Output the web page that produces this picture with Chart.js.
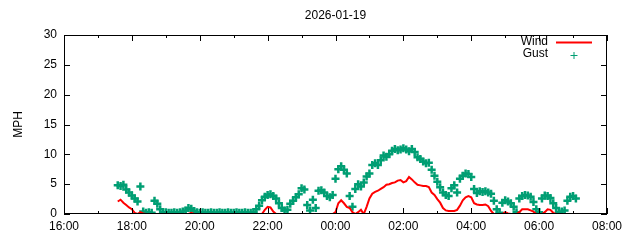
<!DOCTYPE html>
<html>
<head>
<meta charset="utf-8">
<script src="https://cdn.jsdelivr.net/npm/chart.js@4/dist/chart.umd.min.js"></script>
<style>
  html, body { margin: 0; padding: 0; background: #fff; }
  #wrap { width: 640px; height: 240px; }
</style>
</head>
<body>
<div id="wrap"><canvas id="myChart" width="640" height="240"></canvas></div>
<script>
// Sample times (5 minute readings, 2026-01-19 evening into next morning)
var times = [
  '17:35','17:40','17:45','17:50','17:55',
  '18:00','18:05','18:10','18:15','18:20','18:25','18:30','18:35','18:40','18:45','18:50','18:55',
  '19:00','19:05','19:10','19:15','19:20','19:25','19:30','19:35','19:40','19:45','19:50','19:55',
  '20:00','20:05','20:10','20:15','20:20','20:25','20:30','20:35','20:40','20:45','20:50','20:55',
  '21:00','21:05','21:10','21:15','21:20','21:25','21:30','21:35','21:40','21:45','21:50','21:55',
  '22:00','22:05','22:10','22:15','22:20','22:25','22:30','22:35','22:40','22:45','22:50','22:55',
  '23:00','23:05','23:10','23:15','23:20','23:25','23:30','23:35','23:40','23:45','23:50','23:55',
  '00:00','00:05','00:10','00:15','00:20','00:25','00:30','00:35','00:40','00:45','00:50','00:55',
  '01:00','01:05','01:10','01:15','01:20','01:25','01:30','01:35','01:40','01:45','01:50','01:55',
  '02:00','02:05','02:10','02:15','02:20','02:25','02:30','02:35','02:40','02:45','02:50','02:55',
  '03:00','03:05','03:10','03:15','03:20','03:25','03:30','03:35','03:40','03:45','03:50','03:55',
  '04:00','04:05','04:10','04:15','04:20','04:25','04:30','04:35','04:40','04:45','04:50','04:55',
  '05:00','05:05','05:10','05:15','05:20','05:25','05:30','05:35','05:40','05:45','05:50','05:55',
  '06:00','06:05','06:10','06:15','06:20','06:25','06:30','06:35','06:40','06:45','06:50','06:55',
  '07:00','07:05'
];

// Wind speed, MPH
var wind = [
  2.1, 2.4, 1.9, 1.5, 1.1,
  0.8, 0.2, 0.0, 0.3, 0.1, 0, 0, 0, 0, 0, 0, 0,
  0, 0, 0, 0, 0, 0, 0, 0, 0, 0.2, 0, 0,
  0, 0, 0, 0, 0, 0, 0, 0, 0, 0, 0, 0,
  0, 0, 0, 0, 0, 0, 0, 0, 0, 0, 0, 0.7,
  1.2, 1.1, 0.4, 0, 0, 0, 0, 0, 0, 0, 0, 0,
  0, 0, 0, 0, 0, 0, 0, 0, 0, 0, 0, 0,
  0.3, 1.8, 2.3, 1.8, 1.2, 1.0, 0.3, 0, 0.3, 0.7, 0, 1.2,
  2.6, 3.4, 3.7, 3.9, 4.2, 4.5, 4.9, 5.0, 5.2, 5.3, 5.6, 5.7,
  5.3, 5.5, 6.2, 5.8, 5.3, 4.9, 4.8, 4.7, 4.7, 4.5, 3.6, 3.2,
  2.5, 1.9, 1.0, 0.6, 0.5, 0.5, 0.5, 0.7, 1.4, 2.3, 2.8, 3.0,
  2.8, 1.8, 1.6, 1.5, 1.5, 1.6, 1.3, 0.5, 0, 0, 0, 0,
  0.3, 0.1, 0, 0, 0, 0.3, 0.8, 0.8, 0.8, 0.6, 0.4, 0,
  0, 0, 0.3, 0.8, 0.7, 0.2, 0, 0, 0, 0, 0, 0,
  0, 0
];

// Gust speed, MPH
var gust = [
  4.8, 4.7, 4.9, 4.1, 3.6,
  3.1, 2.6, 2.1, 4.6, 0.4, 0.2, 0.3, 0.2, 2.2, 1.7, 0.8, 0.3,
  0.3, 0.2, 0.2, 0.3, 0.2, 0.3, 0.4, 0.6, 1.0, 0.9, 0.5, 0.3,
  0.2, 0.3, 0.2, 0.2, 0.3, 0.2, 0.2, 0.3, 0.2, 0.2, 0.3, 0.2,
  0.2, 0.3, 0.2, 0.2, 0.3, 0.2, 0.2, 0.3, 0.8, 1.4, 2.3, 2.9,
  3.2, 3.3, 3.0, 2.6, 1.8, 1.0, 0.6, 0.7, 1.7, 2.2, 2.8, 3.3,
  4.3, 4.1, 1.5, 0.6, 2.4, 1.0, 3.9, 4.0, 3.6, 3.0, 2.8, 3.2,
  5.9, 7.5, 8.0, 7.4, 6.8, 3.0, 1.2, 4.2, 5.0, 4.6, 5.3, 6.3,
  6.8, 8.2, 8.5, 8.2, 9.0, 9.8, 9.6, 10.0, 10.6, 10.9, 10.7, 10.8,
  11.0, 10.8, 10.5, 10.9, 10.4, 9.5, 9.2, 8.8, 8.5, 8.6, 7.4, 6.4,
  5.4, 4.5, 3.6, 3.2, 3.0, 4.3, 4.8, 3.6, 5.9, 6.4, 6.8, 6.7,
  6.2, 4.2, 3.5, 3.8, 3.7, 3.8, 3.6, 3.4, 2.2, 0.8, 0.2, 1.9,
  2.3, 2.1, 1.8, 1.2, 0.3, 2.6, 3.0, 3.2, 3.1, 2.9, 2.0, 0.8,
  0.3, 2.6, 3.1, 3.0, 2.7, 1.8, 1.0, 0.3, 0.4, 0.6, 2.2, 2.9,
  3.0, 2.6
];

var xTickLabels = ['16:00', '18:00', '20:00', '22:00', '00:00', '02:00', '04:00', '06:00', '08:00'];
var yTickValues = [0, 5, 10, 15, 20, 25, 30];
var chartTitle = '2026-01-19';

var FONT = 'Liberation Sans, Arial, sans-serif';

// minutes since 16:00, wrapping past midnight
function toMinutes(t) {
    var p = t.split(':');
    var v = (parseInt(p[0], 10) - 16) * 60 + parseInt(p[1], 10);
    if (v < 0) v += 1440;
    return v;
}

function pairs(values) {
    var out = [];
    for (var i = 0; i < times.length; i++) {
        out.push({ x: toMinutes(times[i]), y: values[i] });
    }
    return out;
}

// gnuplot-ish frame: border, inward ticks on all four sides, title and key
var gnuplotFrame = {
    id: 'gnuplotFrame',
    afterDraw: function(chart) {
        var ctx = chart.ctx;
        var a = chart.chartArea;
        var xs = chart.scales.x, ys = chart.scales.y;
        ctx.save();
        ctx.strokeStyle = '#000';
        ctx.lineWidth = 1;
        ctx.strokeRect(Math.round(a.left) + 0.5, Math.round(a.top) + 0.5,
                       Math.round(a.width) - 1, Math.round(a.height) - 1);
        ctx.beginPath();
        xs.ticks.forEach(function(t) {
            var px = Math.round(xs.getPixelForValue(t.value)) + 0.5;
            var len = (t.value % 120 === 0) ? 6 : 3;
            ctx.moveTo(px, a.bottom); ctx.lineTo(px, a.bottom - len);
            ctx.moveTo(px, a.top); ctx.lineTo(px, a.top + len);
        });
        ys.ticks.forEach(function(t) {
            var py = Math.round(ys.getPixelForValue(t.value)) + 0.5;
            ctx.moveTo(a.left, py); ctx.lineTo(a.left + 6, py);
            ctx.moveTo(a.right, py); ctx.lineTo(a.right - 6, py);
        });
        ctx.stroke();

        // title
        ctx.fillStyle = '#000';
        ctx.font = '12px ' + FONT;
        ctx.textAlign = 'center';
        ctx.textBaseline = 'middle';
        ctx.fillText(chartTitle, (a.left + a.right) / 2, 16);

        // key, top right inside the plot
        var ds = chart.data.datasets;
        ctx.textAlign = 'right';
        ctx.fillText(ds[0].label, 548, 42);
        ctx.fillText(ds[1].label, 548, 54);
        ctx.strokeStyle = ds[0].borderColor;
        ctx.lineWidth = 2;
        ctx.beginPath();
        ctx.moveTo(556, 42.5); ctx.lineTo(592, 42.5);
        ctx.stroke();
        ctx.strokeStyle = ds[1].borderColor;
        ctx.lineWidth = 1;
        ctx.beginPath();
        ctx.moveTo(570.5, 55.5); ctx.lineTo(577.5, 55.5);
        ctx.moveTo(574, 52); ctx.lineTo(574, 59);
        ctx.stroke();
        ctx.restore();
    }
};

function createChart() {
    var ctx = document.getElementById('myChart').getContext('2d');
    var myChart = new Chart(ctx, {
        type: 'line',
        data: {
            datasets: [{
                label: 'Wind',
                data: pairs(wind),
                borderColor: '#ff0000',
                backgroundColor: '#ff0000',
                borderWidth: 2,
                pointRadius: 0,
                tension: 0,
                fill: false
            }, {
                label: 'Gust',
                data: pairs(gust),
                showLine: false,
                borderColor: '#009e73',
                backgroundColor: '#009e73',
                pointStyle: 'cross',
                pointRadius: 4,
                pointBorderWidth: 2.5,
                clip: 0
            }]
        },
        options: {
            responsive: false,
            animation: false,
            layout: { padding: { top: 35, right: 33, bottom: 0, left: 0 } },
            plugins: {
                legend: { display: false },
                title: { display: false },
                tooltip: { enabled: false }
            },
            scales: {
                x: {
                    type: 'linear',
                    min: 0,
                    max: 960,
                    grid: { display: false, drawTicks: false },
                    border: { display: false },
                    afterFit: function(s) { s.height = 26; },
                    ticks: {
                        stepSize: 60,
                        autoSkip: false,
                        maxRotation: 0,
                        padding: 5,
                        color: '#000',
                        font: { family: FONT, size: 12 },
                        callback: function(v) {
                            return v % 120 === 0 ? xTickLabels[v / 120] : '';
                        }
                    }
                },
                y: {
                    min: 0,
                    max: 30,
                    grid: { display: false, drawTicks: false },
                    border: { display: false },
                    afterFit: function(s) { s.width = 64; },
                    afterBuildTicks: function(s) {
                        s.ticks = yTickValues.map(function(v) { return { value: v }; });
                    },
                    title: {
                        display: true,
                        text: 'MPH',
                        color: '#000',
                        font: { family: FONT, size: 12 },
                        padding: { top: 11, bottom: 0 }
                    },
                    ticks: {
                        padding: 7,
                        color: '#000',
                        font: { family: FONT, size: 12 }
                    }
                }
            }
        },
        plugins: [gnuplotFrame]
    });
}

createChart();
</script>
</body>
</html>
